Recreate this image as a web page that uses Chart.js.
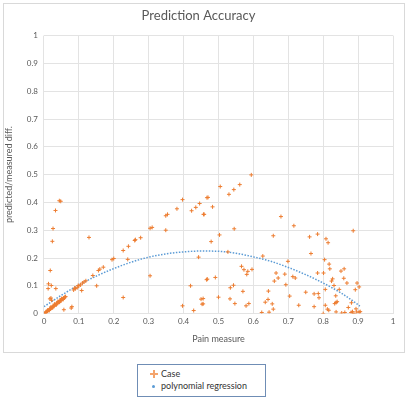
<!DOCTYPE html>
<html>
<head>
<meta charset="utf-8">
<script src="https://cdn.jsdelivr.net/npm/chart.js@4.4.1/dist/chart.umd.min.js"></script>
<style>
  body { margin: 0; background: #fff; font-family: Lato, "Open Sans", sans-serif; }
  #wrap { position: relative; width: 410px; height: 400px; }
  #box { position: absolute; left: 3px; top: 3px; width: 400px; height: 348px; border: 1px solid #d9d9d9; }
  #legend { position: absolute; left: 137px; top: 364px; width: 127px; height: 31px; border: 1px solid #6f8db5;
            font-size: 9px; color: #333; }
  .row { position: absolute; left: 23px; }
  .plus { position: absolute; left: 12px; top: 5px; width: 8px; height: 8px; }
  .plus:before { content: ""; position: absolute; left: 0; top: 3px; width: 8px; height: 2px; background: #f4a46c; }
  .plus:after { content: ""; position: absolute; left: 3px; top: 0; width: 2px; height: 8px; background: #f4a46c; }
  .dot { position: absolute; left: 14px; top: 20px; width: 3px; height: 3px; border-radius: 2px; background: #5b9bd5; }
</style>
</head>
<body>
<div id="wrap">
  <div id="box"><canvas id="chart" width="400" height="348"></canvas></div>
  <div id="legend">
    <div class="plus"></div><div class="row" style="top:3px">Case</div>
    <div class="dot"></div><div class="row" style="top:15px">polynomial regression</div>
  </div>
</div>
<script>
// точки "Case" (x = pain measure, y = predicted/measured diff.)
const caseX = [
  0.002,0.004,0.006,0.008,0.010,0.012,0.014,0.016,0.018,0.020,0.022,0.024,0.026,0.028,0.030,0.032,
  0.034,0.036,0.038,0.040,0.042,0.044,0.046,0.048,0.050,0.052,0.054,0.056,0.058,0.060,0.062,
  0.010,0.020,0.030,0.040,0.050,0.015,0.025,0.035,0.045,0.055,
  0.085,0.090,0.095,0.100,0.105,0.110,0.115,0.120,0.088,0.098,
  0.048,0.044,0.033,0.026,0.024,0.018,0.013,0.021,0.034,0.012,0.017,0.022,0.020,0.057,0.080,0.078,
  0.108,0.129,0.151,0.227,
  0.140,0.156,0.160,0.170,0.195,0.200,0.227,0.242,0.260,0.262,0.277,0.304,0.310,0.349,0.354,0.381,
  0.397,0.423,0.435,0.446,0.459,0.470,0.240,0.304,0.349,0.443,0.420,0.468,0.456,0.456,0.397,0.429,
  0.594,0.505,0.561,0.544,0.530,0.467,0.483,0.457,0.679,0.716,0.545,0.886,0.784,0.808,0.814,0.761,
  0.657,0.503,0.479,0.527,0.765,0.627,0.699,0.804,0.817,0.819,0.860,0.851,0.566,0.573,0.584,0.596,
  0.581,0.665,0.690,0.671,0.660,0.713,0.720,0.784,0.801,0.827,0.824,0.859,0.868,0.897,0.903,0.892,
  0.693,0.543,0.534,0.491,0.466,0.570,0.643,0.750,0.774,0.786,0.806,0.831,0.846,0.836,0.788,0.704,
  0.500,0.533,0.450,0.453,0.547,0.587,0.579,0.654,0.642,0.634,0.730,0.774,0.806,0.833,0.837,0.840,
  0.872,0.881,0.862,0.624,0.645,0.657,0.800,0.812,0.816,0.837,0.853,0.884,0.888,0.896,0.903,0.906,
  0.894,0.880
];
const caseY = [
  0.001,0.003,0.005,0.007,0.009,0.012,0.013,0.015,0.017,0.020,0.021,0.023,0.025,0.028,0.030,0.031,
  0.033,0.035,0.038,0.040,0.041,0.043,0.046,0.047,0.050,0.051,0.053,0.055,0.057,0.060,0.061,
  0.012,0.024,0.034,0.044,0.054,0.011,0.021,0.031,0.041,0.051,
  0.085,0.090,0.093,0.100,0.103,0.110,0.114,0.118,0.092,0.101,
  0.404,0.406,0.371,0.306,0.260,0.155,0.107,0.101,0.090,0.090,0.053,0.048,0.056,0.014,0.025,0.020,
  0.083,0.274,0.100,0.058,
  0.137,0.155,0.160,0.167,0.194,0.198,0.227,0.242,0.263,0.266,0.273,0.307,0.310,0.352,0.357,0.377,
  0.410,0.370,0.382,0.396,0.357,0.418,0.195,0.136,0.300,0.203,0.100,0.124,0.054,0.035,0.028,0.011,
  0.499,0.457,0.464,0.446,0.429,0.417,0.384,0.357,0.349,0.316,0.305,0.298,0.286,0.269,0.255,0.276,
  0.280,0.283,0.259,0.222,0.216,0.207,0.188,0.194,0.178,0.161,0.161,0.153,0.170,0.158,0.152,0.159,
  0.141,0.146,0.142,0.128,0.117,0.133,0.128,0.146,0.146,0.125,0.117,0.127,0.110,0.110,0.096,0.086,
  0.104,0.102,0.093,0.130,0.122,0.080,0.081,0.077,0.071,0.072,0.087,0.101,0.087,0.064,0.057,0.063,
  0.059,0.053,0.052,0.034,0.036,0.036,0.028,0.035,0.051,0.041,0.030,0.025,0.030,0.036,0.040,0.043,
  0.022,0.039,0.004,0.004,0.005,0.016,0.000,0.016,0.012,0.006,0.002,0.007,0.000,0.006,0.005,0.007,
  0.017,0.004
];
// линия тренда
const trendX = [0, 0.05, 0.1, 0.15, 0.2, 0.25, 0.3, 0.35, 0.4, 0.45, 0.5, 0.55, 0.6, 0.65, 0.7, 0.75, 0.8, 0.85, 0.9, 0.905];
const trendY = [0.025, 0.066, 0.103, 0.135, 0.162, 0.185, 0.203, 0.215, 0.222, 0.225, 0.224, 0.217, 0.204, 0.188, 0.166, 0.14, 0.11, 0.075, 0.032, 0.027];
const tickMin = 0, tickMax = 1, tickStep = 0.1;

const grey = '#595959';
const ctx = document.getElementById('chart').getContext('2d');

function tickLabel(v) {
    return String(Number(v.toFixed(1)));
}

new Chart(ctx, {
    type: 'scatter',
    data: {
        datasets: [{
            label: 'Case',
            data: caseX.map((x, i) => ({ x: x, y: caseY[i] })),
            pointStyle: 'cross',
            pointRadius: 2,
            pointBorderWidth: 1,
            borderColor: '#ed7d31',
            backgroundColor: '#ed7d31'
        }, {
            label: 'polynomial regression',
            type: 'line',
            data: trendX.map((x, i) => ({ x: x, y: trendY[i] })),
            showLine: true,
            pointRadius: 0,
            borderColor: '#5b9bd5',
            borderWidth: 1.5,
            borderDash: [1.5, 1.5],
            cubicInterpolationMode: 'monotone',
            fill: false
        }]
    },
    options: {
        responsive: false,
        animation: false,
        layout: { padding: { left: 0, right: 11, top: 0, bottom: 8 } },
        plugins: {
            legend: { display: false },
            tooltip: { enabled: false },
            title: {
                display: true,
                text: 'Prediction Accuracy',
                color: grey,
                font: { family: 'Lato', size: 13, weight: 'normal' },
                padding: { top: 4, bottom: 12 }
            }
        },
        scales: {
            x: {
                type: 'linear',
                min: tickMin, max: tickMax,
                ticks: { stepSize: tickStep, color: grey, font: { family: 'Lato', size: 8 }, padding: 3, maxRotation: 0, callback: tickLabel },
                grid: { color: '#e3e3e3', drawTicks: false },
                border: { display: false },
                title: { display: true, text: 'Pain measure', color: grey, font: { family: 'Lato', size: 9 }, padding: { top: 4, bottom: 0 } }
            },
            y: {
                min: tickMin, max: tickMax,
                ticks: { stepSize: tickStep, color: grey, font: { family: 'Lato', size: 8 }, padding: 6, callback: tickLabel },
                grid: { color: '#e3e3e3', drawTicks: false },
                border: { display: false },
                title: { display: true, text: 'predicted/measured diff.', color: grey, font: { family: 'Lato', size: 9 }, padding: { top: 0, bottom: 6 } }
            }
        }
    }
});
</script>
</body>
</html>
